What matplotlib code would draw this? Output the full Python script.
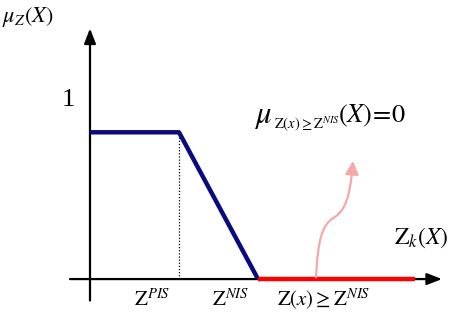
import matplotlib.pyplot as plt
from matplotlib.patches import FancyArrowPatch
from matplotlib.path import Path

plt.rcParams['mathtext.fontset'] = 'stix'
plt.rcParams['font.family'] = 'Liberation Serif'

# membership function (x in arbitrary units, y = membership)
z_pis = 0.89
z_nis = 1.68
z_end = 3.25
plateau = 0.82
blue_x = [0, z_pis, z_nis]
blue_y = [plateau, plateau, 0]
red_x = [z_nis, z_end]
red_y = [0, 0]

fig = plt.figure(figsize=(4.52, 3.12), dpi=100)
ax = fig.add_axes([0, 0, 1, 1])
ax.set_xlim(-0.9, 3.62)
ax.set_ylim(-0.184, 1.559)
ax.axis('off')

# axes with arrows
ax.annotate('', xy=(3.52, 0), xytext=(-0.2, 0),
            arrowprops=dict(arrowstyle='-|>,head_length=0.9,head_width=0.35',
                            color='black', lw=1.6, shrinkA=0, shrinkB=0), zorder=2)
ax.annotate('', xy=(0, 1.40), xytext=(0, -0.12),
            arrowprops=dict(arrowstyle='-|>,head_length=0.9,head_width=0.35',
                            color='black', lw=1.6, shrinkA=0, shrinkB=0), zorder=2)

# dotted guide
ax.plot([z_pis, z_pis], [0, plateau], color='black', lw=0.9, ls=(0, (1, 1.5)))

ax.plot(blue_x, blue_y, color='#0a0a80', lw=3.2, solid_capstyle='butt', zorder=4)
ax.plot(red_x, red_y, color='#ff0000', lw=3.2, solid_capstyle='butt', zorder=4)

# pink curved arrow
verts = [(2.26, 0.01), (2.28, 0.22), (2.32, 0.30), (2.43, 0.34),
         (2.55, 0.38), (2.60, 0.45), (2.63, 0.66)]
codes = [Path.MOVETO, Path.CURVE4, Path.CURVE4, Path.CURVE4,
         Path.CURVE4, Path.CURVE4, Path.CURVE4]
arr = FancyArrowPatch(path=Path(verts, codes),
                      arrowstyle='-|>,head_length=8,head_width=4',
                      color='#f5a8a8', lw=1.6, zorder=5)
ax.add_patch(arr)

ax.text(0.005, 0.985, r'$\mu_{Z}(X)$', transform=fig.transFigure,
        fontsize=16, va='top', ha='left')
ax.text(-0.22, 1.0, '1', fontsize=19, ha='center', va='center')
ax.text(z_pis - 0.27, -0.115, r'$\mathrm{Z}^{PIS}$', fontsize=15, ha='center', va='center')
ax.text(z_nis - 0.27, -0.115, r'$\mathrm{Z}^{NIS}$', fontsize=15, ha='center', va='center')
ax.text(2.34, -0.11, r'$\mathrm{Z}(x)\geq\mathrm{Z}^{NIS}$', fontsize=15, ha='center', va='center')
ax.text(3.31, 0.23, r'$\mathrm{Z}_{k}(X)$', fontsize=17, ha='center', va='center')
ax.text(1.64, 0.91, r'$\mu$', fontsize=22, ha='left', va='center')
ax.text(1.84, 0.87, r'$\mathrm{Z}(x)\geq\mathrm{Z}^{NIS}$', fontsize=10.5, ha='left', va='center')
ax.text(2.48, 0.91, r'$(X)\!=\!0$', fontsize=19, ha='left', va='center')

fig.savefig('out.png', dpi=100)
